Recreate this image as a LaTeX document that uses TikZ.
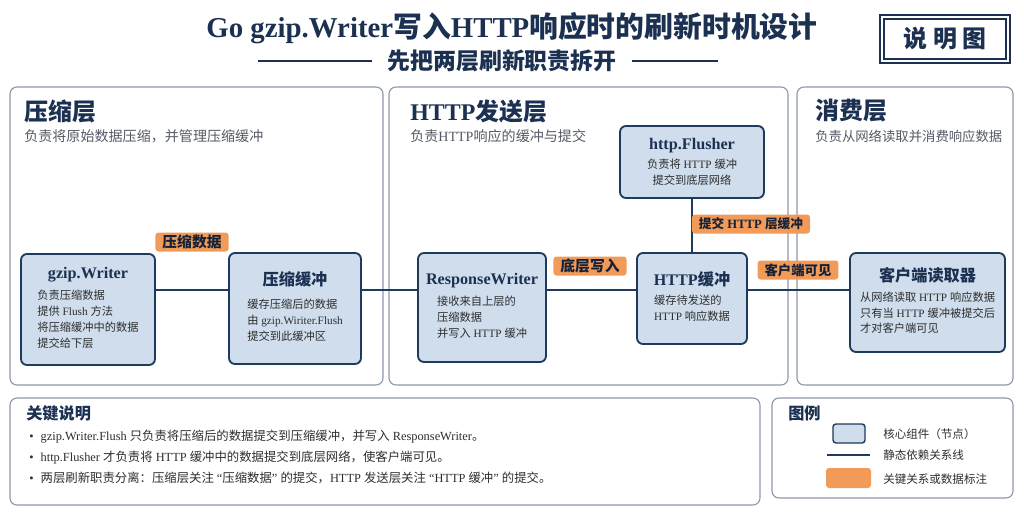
\documentclass[tikz,border=0pt]{standalone}
\usepackage{fontspec}
\usepackage{xcolor}
\setmainfont{Liberation Serif}
\newfontfamily\cjkfont{Noto Sans CJK SC}
\usetikzlibrary{positioning}

% switch to the CJK family for ideographs and full-width punctuation
\XeTeXinterchartokenstate=1
\newXeTeXintercharclass\cjkclass
\newcount\cjkcode
\def\setcjkrange#1#2{\cjkcode=#1 \loop\XeTeXcharclass\cjkcode=\cjkclass\advance\cjkcode by 1 \ifnum\cjkcode<#2 \repeat}
\setcjkrange{"4E00}{"A000}
\setcjkrange{"3000}{"3040}
\setcjkrange{"FF00}{"FFF0}
\XeTeXcharclass"201C=0
\XeTeXcharclass"201D=0
\XeTeXcharclass"2022=0
\XeTeXinterchartoks 0 \cjkclass = {\cjkfont}
\XeTeXinterchartoks 4095 \cjkclass = {\cjkfont}
\XeTeXinterchartoks \cjkclass 0 = {\rmfamily}
\XeTeXinterchartoks \cjkclass 4095 = {\rmfamily}

\definecolor{navy}{HTML}{1C3152}
\definecolor{nodefill}{HTML}{CFDDEC}
\definecolor{nodeline}{HTML}{1E3A5C}
\definecolor{orangelab}{HTML}{F29B58}
\definecolor{panelline}{HTML}{8E99AB}
\definecolor{bodytext}{HTML}{2E2E2E}
\definecolor{subtext}{HTML}{555B66}

\newdimen\px \px=0.025cm
\newcommand\ctitle[1]{{\bfseries\fontsize{11.5}{14}\selectfont\color{navy}#1}}

\begin{document}
\begin{tikzpicture}[x=0.025cm,y=-0.025cm]
\tikzset{panel/.style={draw=panelline, line width=0.8pt, rounded corners=7\px, fill=white}}
\tikzset{comp/.style={draw=nodeline, line width=1.3pt, fill=nodefill, rounded corners=6\px, align=center, text=bodytext, font=\fontsize{8}{11.3}\selectfont}}
\tikzset{tag/.style={fill=orangelab, rounded corners=3\px, text=navy!70!black, font=\bfseries\fontsize{10.5}{12}\selectfont, minimum height=19\px, inner xsep=5pt, inner ysep=0pt}}
\tikzset{link/.style={draw=nodeline, line width=1.9pt}}
\tikzset{ptitle/.style={anchor=west, inner sep=0pt, text=navy, font=\bfseries\fontsize{17}{20}\selectfont}}
\tikzset{pdesc/.style={anchor=west, inner sep=0pt, text=subtext, font=\fontsize{10}{12}\selectfont}}
\tikzset{btitle/.style={anchor=west, inner sep=0pt, text=navy, font=\bfseries\fontsize{11.5}{14}\selectfont}}
\tikzset{note/.style={anchor=west, inner sep=0pt, text=bodytext, font=\fontsize{8.2}{10}\selectfont}}

\useasboundingbox[fill=white] (0,0) rectangle (1024,512);

\node[text=navy, font=\bfseries\fontsize{20.5}{24}\selectfont] (title) at (512,28) {Go gzip.Writer写入HTTP响应时的刷新时机设计};
\node[text=navy, font=\bfseries\fontsize{16.3}{19}\selectfont] (sub) at (502,61) {先把两层刷新职责拆开};
\draw[navy, line width=0.9pt] ([xshift=-10\px]sub.west) -- ++(-114,0);
\draw[navy, line width=0.9pt] ([xshift=10\px]sub.east) -- ++(86,0);
\node[draw=navy, double=white, double distance=2pt, line width=0.8pt, minimum width=126\px, minimum height=44\px,
  text=navy, font=\bfseries\fontsize{17}{20}\selectfont] (shuoming) at (945,39) {说\hspace{4pt}明\hspace{4pt}图};

\node[panel, minimum width=373\px, minimum height=298\px] (p1) at (196.5,236) {};
\node[panel, minimum width=399\px, minimum height=298\px] (p2) at (588.5,236) {};
\node[panel, minimum width=216\px, minimum height=298\px] (p3) at (905,236) {};

\node[ptitle] (p1t) at (24,111) {压缩层};
\node[pdesc] (p1d) at (24,136) {负责将原始数据压缩，并管理压缩缓冲};
\node[ptitle] (p2t) at (410,111) {HTTP发送层};
\node[pdesc] (p2d) at (410,136) {负责HTTP响应的缓冲与提交};
\node[ptitle] (p3t) at (815,111) {消费层};
\node[pdesc, font=\fontsize{9.5}{12}\selectfont] (p3d) at (815,136) {负责从网络读取并消费响应数据};

\node[comp, minimum width=134\px, minimum height=111\px] (gw) at (88,309.5)
  {\ctitle{gzip.Writer}\\[4pt]\begin{tabular}{@{}l@{}}负责压缩数据\\提供 Flush 方法\\将压缩缓冲中的数据\\提交给下层\end{tabular}};
\node[comp, minimum width=132\px, minimum height=111\px] (cb) at (295,308.5)
  {\ctitle{压缩缓冲}\\[6pt]\begin{tabular}{@{}l@{}}缓存压缩后的数据\\由 gzip.Wiriter.Flush\\提交到此缓冲区\end{tabular}};
\node[comp, minimum width=128\px, minimum height=109\px] (rw) at (482,307.5)
  {\ctitle{ResponseWriter}\\[4pt]\begin{tabular}{@{}l@{}}接收来自上层的\\压缩数据\\并写入 HTTP 缓冲\end{tabular}};
\node[comp, minimum width=110\px, minimum height=91\px] (hb) at (692,298.5)
  {\ctitle{HTTP缓冲}\\[4pt]\begin{tabular}{@{}l@{}}缓存待发送的\\HTTP 响应数据\end{tabular}};
\node[comp, minimum width=144\px, minimum height=72\px] (hf) at (692,162)
  {\ctitle{http.Flusher}\\[2pt]负责将 HTTP 缓冲\\提交到底层网络};
\node[comp, minimum width=155\px, minimum height=99\px] (cr) at (927.5,302.5)
  {\ctitle{客户端读取器}\\[4pt]\begin{tabular}{@{}l@{}}从网络读取 HTTP 响应数据\\只有当 HTTP 缓冲被提交后\\才对客户端可见\end{tabular}};

\coordinate (bus) at (0,290);
\draw[link] (gw.east |- bus) -- (cb.west |- bus);
\draw[link] (cb.east |- bus) -- (rw.west |- bus);
\draw[link] (rw.east |- bus) -- (hb.west |- bus);
\draw[link] (hb.east |- bus) -- (cr.west |- bus);
\draw[link] (hf) -- (hb);

\node[tag] (t1) at (192,242) {压缩数据};
\node[tag] (t2) at (590,266) {底层写入};
\node[tag, font=\bfseries\fontsize{9}{11}\selectfont] (t3) at (751,224) {提交 HTTP 层缓冲};
\node[tag, font=\bfseries\fontsize{9.5}{11}\selectfont] (t4) at (798,270) {客户端可见};

\node[panel, minimum width=750\px, minimum height=107\px] (keybox) at (385,451.5) {};
\node[btitle] (keyt) at (26,413) {关键说明};
\node[anchor=north west, align=left, inner sep=0pt, text=bodytext, font=\fontsize{8.8}{14.9}\selectfont] (keytxt) at (29,430)
  {\textbullet\hspace{5pt}gzip.Writer.Flush 只负责将压缩后的数据提交到压缩缓冲，并写入 ResponseWriter。\\
   \textbullet\hspace{5pt}http.Flusher 才负责将 HTTP 缓冲中的数据提交到底层网络，使客户端可见。\\
   \textbullet\hspace{5pt}两层刷新职责分离：压缩层关注 “压缩数据” 的提交，HTTP 发送层关注 “HTTP 缓冲” 的提交。};

\node[panel, minimum width=241\px, minimum height=100\px] (legbox) at (892.5,448) {};
\node[btitle] (legt) at (788,413) {图例};
\node[comp, minimum width=32\px, minimum height=19\px, line width=1pt, rounded corners=3\px] (lg1) at (849,433.5) {};
\coordinate (lg2a) at (827,455);
\coordinate (lg2b) at (870,455);
\draw[link] (lg2a) -- (lg2b);
\node[tag, minimum width=45\px, minimum height=20\px] (lg3) at (848.5,478) {};
\node[note] (lg1t) at (883,434) {核心组件（节点）};
\node[note] (lg2t) at (883,455) {静态依赖关系线};
\node[note] (lg3t) at (883,479) {关键关系或数据标注};

\end{tikzpicture}
\end{document}
